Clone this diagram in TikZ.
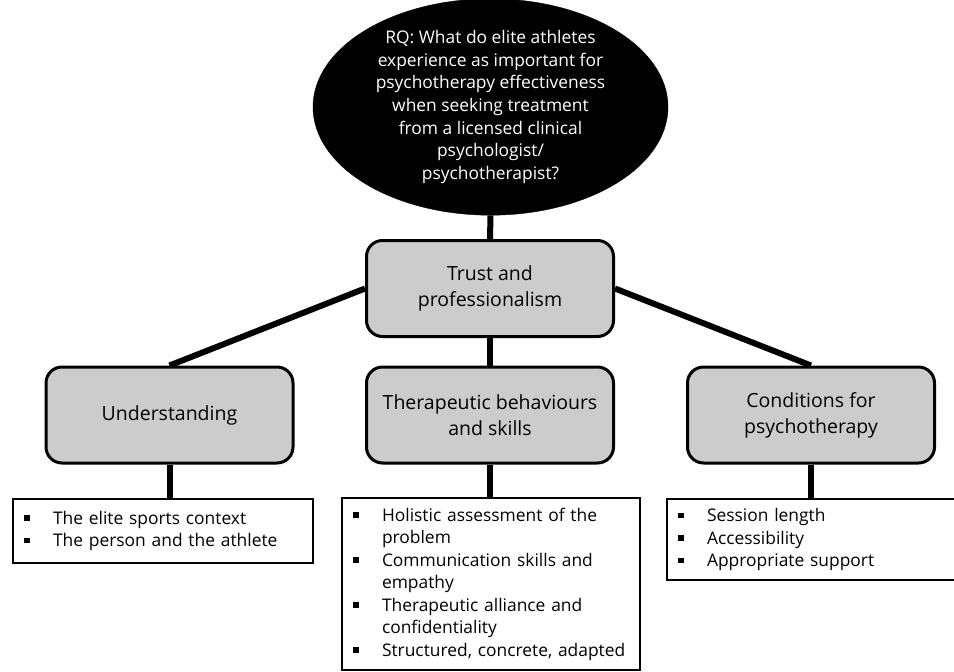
\documentclass[tikz,border=0pt]{standalone}
\usepackage{fontspec}
\setmainfont{Open Sans}
\usetikzlibrary{shapes.geometric,backgrounds}
\newcommand\bitem{\makebox[29pt][l]{\rule[3.3pt]{5.5pt}{5.5pt}}}
\newcommand\bcont{\hspace*{29pt}}
\tikzset{
  rq/.style={ellipse, fill=black, draw=black, minimum width=355pt, minimum height=200pt, inner sep=0pt,
    text=white, align=center, font=\fontsize{17.4}{22.6}\selectfont},
  theme/.style={rectangle, rounded corners=16pt, fill=black!20, draw=black, line width=3pt,
    minimum width=247pt, minimum height=96pt, align=center, font=\fontsize{19.5}{25.8}\selectfont},
  listbox/.style={rectangle, draw=black, fill=white, line width=2.6pt, inner xsep=11pt, inner ysep=0pt,
    align=left, font=\fontsize{17.4}{22.5}\selectfont},
  conn/.style={line width=6pt, black},
}
\begin{document}
\begin{tikzpicture}[x=1pt,y=-1pt]
\useasboundingbox (0,0) rectangle (954,672);
\node[rq] (rq) at (490.5,107) {RQ: What do elite athletes\\experience as important for\\psychotherapy effectiveness\\when seeking treatment\\from a licensed clinical\\psychologist/\\psychotherapist?};
\node[theme] (trust) at (490,288.5) {Trust and\\professionalism};
\node[theme] (und) at (169.5,415) {Understanding};
\node[theme] (ther) at (490,415) {Therapeutic behaviours\\and skills};
\node[theme] (cond) at (811,415) {Conditions for\\psychotherapy};
\node[listbox, text width=278pt, minimum width=300pt, minimum height=64pt] (l1) at (163,531)
  {\bitem The elite sports context\\\bitem The person and the athlete};
\node[listbox, text width=276pt, minimum width=298pt, minimum height=172pt] (l2) at (491,584)
  {\bitem Holistic assessment of the\\\bcont problem\\\bitem Communication skills and\\\bcont empathy\\\bitem Therapeutic alliance and\\\bcont confidentiality\\\bitem Structured, concrete, adapted};
\node[listbox, text width=268pt, minimum width=290pt, minimum height=81pt] (l3) at (812,539.5)
  {\bitem Session length\\\bitem Accessibility\\\bitem Appropriate support};
\begin{scope}[on background layer]
\draw[conn] (rq.south) -- (trust.north);
\draw[conn] (trust.south) -- (ther.north);
\draw[conn] (trust.west) -- (und.north);
\draw[conn] (trust.east) -- (cond.north);
\draw[conn] (und.south) -- (und.south |- l1.north);
\draw[conn] (ther.south) -- (ther.south |- l2.north);
\draw[conn] (cond.south) -- (cond.south |- l3.north);
\end{scope}
\end{tikzpicture}
\end{document}
